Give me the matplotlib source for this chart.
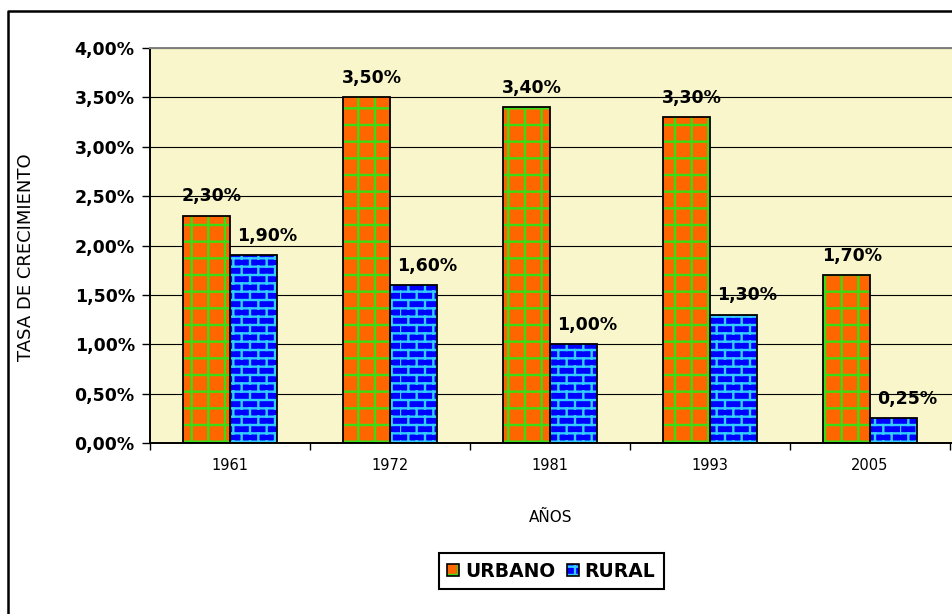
import matplotlib
matplotlib.use("Agg")
import matplotlib.pyplot as plt
import matplotlib.hatch as mhatch
import numpy as np
from matplotlib.patches import Patch
from matplotlib.lines import Line2D

# Data: growth rate (fraction) by census year
years = ["1961", "1972", "1981", "1993", "2005"]
urbano = [0.023, 0.035, 0.034, 0.033, 0.017]
rural = [0.019, 0.016, 0.010, 0.013, 0.0025]
series_names = ["URBANO", "RURAL"]
y_ticks = [0.0, 0.005, 0.01, 0.015, 0.02, 0.025, 0.03, 0.035, 0.04]


# Brick hatch (Excel style) used for the rural bars; it takes over the 'o' hatch
class BrickHatch(mhatch.HatchPatternBase):
    def __init__(self, hatch, density):
        self.rows = 12 if "o" in hatch else 0
        self.per_row = 6
        self.num_vertices = (self.rows + 1) * 2 + self.rows * self.per_row * 2 if self.rows else 0

    def set_vertices_and_codes(self, vertices, codes):
        pts = []
        for r in range(self.rows + 1):
            y = r / self.rows
            pts += [(0.0, y), (1.0, y)]
        for r in range(self.rows):
            off = 0.0 if r % 2 == 0 else 0.5 / self.per_row
            for k in range(self.per_row):
                x = off + k / self.per_row
                pts += [(x, r / self.rows), (x, (r + 1) / self.rows)]
        vertices[:] = np.array(pts)
        codes[0::2] = matplotlib.path.Path.MOVETO
        codes[1::2] = matplotlib.path.Path.LINETO


mhatch._hatch_types[mhatch._hatch_types.index(mhatch.SmallCircles)] = BrickHatch

plt.rcParams["hatch.linewidth"] = 1.7
plt.rcParams["font.family"] = ["DejaVu Sans"]

orange, green = "#FF6600", "#3CDC14"
blue, cyan = "#0000FF", "#33CCFF"
bg = "#F8F6CA"

fig = plt.figure(figsize=(9.52, 6.14), dpi=100)
ax = fig.add_axes([150 / 952, 1 - 443 / 614, 802 / 952, 395 / 614])
ax.set_facecolor(bg)

x = np.arange(len(years))
w = 0.294

# Hatched fill first, black outline on top
ax.bar(x - w / 2, urbano, w, color=orange, edgecolor=green, hatch="+", linewidth=0, zorder=2)
ax.bar(x + w / 2, rural, w, color=blue, edgecolor=cyan, hatch="o", linewidth=0, zorder=2)
ax.bar(x - w / 2, urbano, w, fill=False, edgecolor="black", linewidth=1.3, zorder=3)
ax.bar(x + w / 2, rural, w, fill=False, edgecolor="black", linewidth=1.3, zorder=3)


def fmt(v):
    return f"{v * 100:.2f}%".replace(".", ",")


for xi, v in zip(x - w / 2, urbano):
    ax.annotate(fmt(v), (xi, v), xytext=(4, 14), textcoords="offset points",
                ha="center", va="center", fontsize=12.5, fontweight="bold")
for xi, v in zip(x + w / 2, rural):
    ax.annotate(fmt(v), (xi, v), xytext=(10, 14), textcoords="offset points",
                ha="center", va="center", fontsize=12.5, fontweight="bold")

ax.set_xlim(-0.5, 4.5 + 2 / 160)
ax.set_ylim(0, 0.04)
ax.set_yticks(y_ticks)
ax.set_yticklabels([fmt(t) for t in y_ticks], fontsize=12.5, fontweight="bold")
ax.tick_params(axis="y", length=6, width=1, pad=5)

ax.set_xticks(np.arange(len(years) + 1) - 0.5)
ax.set_xticklabels([])
ax.tick_params(axis="x", which="major", length=5, width=1)
ax.set_xticks(x, minor=True)
ax.set_xticklabels(years, minor=True, fontsize=10.5)
ax.tick_params(axis="x", which="minor", length=0, pad=11)

ax.yaxis.grid(True, color="black", linewidth=0.8)
ax.set_axisbelow(True)

for s in ["left", "bottom"]:
    ax.spines[s].set_linewidth(1.4)
ax.spines["top"].set_color("#808080")
ax.spines["top"].set_linewidth(1.4)
ax.spines["right"].set_visible(False)

ax.set_ylabel("TASA DE CRECIMIENTO", fontsize=13)
ax.yaxis.set_label_coords(-0.143, 0.47)
ax.set_xlabel("AÑOS", fontsize=11)
ax.xaxis.set_label_coords(0.5, -0.17)

# Legend
handles = [
    (Patch(facecolor=orange, edgecolor=green, hatch="+", linewidth=0),
     Patch(fill=False, edgecolor="black", linewidth=1.2)),
    (Patch(facecolor=blue, edgecolor=cyan, hatch="o", linewidth=0),
     Patch(fill=False, edgecolor="black", linewidth=1.2)),
]
leg = fig.legend(handles, series_names, loc="center", bbox_to_anchor=(0.579, 0.07),
                 ncol=2, fancybox=False, edgecolor="black", framealpha=1,
                 prop={"weight": "bold", "size": 13.5}, handlelength=0.65,
                 handleheight=0.65, handletextpad=0.3, columnspacing=0.6,
                 borderpad=0.45)
leg.get_frame().set_linewidth(1.5)

# Outer chart frame (extends beyond the crop on right and bottom)
fig.add_artist(Line2D([8 / 952, 8 / 952, 1.0], [0.0, 1 - 11 / 614, 1 - 11 / 614],
                      transform=fig.transFigure, color="black", linewidth=1.8))

fig.savefig("out.png", dpi=100)
